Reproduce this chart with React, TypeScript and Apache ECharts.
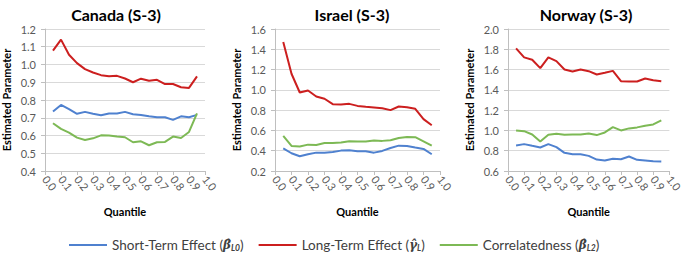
import React, { useEffect, useRef } from "react";
import * as echarts from "echarts";

const quantiles = [0.05, 0.1, 0.15, 0.2, 0.25, 0.3, 0.35, 0.4, 0.45, 0.5, 0.55, 0.6, 0.65, 0.7, 0.75, 0.8, 0.85, 0.9, 0.95];
const xTicks = [0, 1, 0.1];

const countries = ["Canada (S-3)", "Israel (S-3)", "Norway (S-3)"];
const yRanges = [
  [0.4, 1.2, 0.1],
  [0.2, 1.6, 0.2],
  [0.6, 2.0, 0.2],
];

const canadaShort = [0.735, 0.772, 0.748, 0.722, 0.733, 0.722, 0.714, 0.724, 0.724, 0.733, 0.72, 0.716, 0.708, 0.703, 0.703, 0.688, 0.708, 0.703, 0.716];
const canadaLong = [1.078, 1.14, 1.055, 1.008, 0.974, 0.955, 0.94, 0.934, 0.936, 0.921, 0.9, 0.92, 0.908, 0.914, 0.89, 0.89, 0.872, 0.868, 0.933];
const canadaCorr = [0.669, 0.637, 0.616, 0.588, 0.575, 0.584, 0.601, 0.6, 0.594, 0.59, 0.562, 0.567, 0.545, 0.562, 0.564, 0.594, 0.586, 0.62, 0.725];

const israelShort = [0.424, 0.375, 0.345, 0.365, 0.381, 0.381, 0.388, 0.401, 0.404, 0.394, 0.394, 0.381, 0.398, 0.427, 0.45, 0.447, 0.431, 0.418, 0.365];
const israelLong = [1.472, 1.159, 0.974, 0.994, 0.935, 0.912, 0.859, 0.856, 0.862, 0.842, 0.833, 0.826, 0.819, 0.8, 0.836, 0.829, 0.813, 0.711, 0.651];
const israelCorr = [0.546, 0.447, 0.441, 0.46, 0.457, 0.477, 0.477, 0.48, 0.493, 0.49, 0.49, 0.5, 0.497, 0.503, 0.526, 0.536, 0.533, 0.493, 0.45];

const norwayShort = [0.852, 0.865, 0.848, 0.832, 0.865, 0.835, 0.779, 0.766, 0.766, 0.749, 0.713, 0.703, 0.72, 0.716, 0.743, 0.71, 0.703, 0.696, 0.693];
const norwayLong = [1.809, 1.72, 1.697, 1.614, 1.72, 1.683, 1.601, 1.581, 1.601, 1.584, 1.551, 1.568, 1.587, 1.485, 1.482, 1.482, 1.512, 1.495, 1.485];
const norwayCorr = [1.0, 0.993, 0.96, 0.891, 0.957, 0.967, 0.957, 0.96, 0.96, 0.97, 0.954, 0.98, 1.033, 1.0, 1.02, 1.03, 1.046, 1.059, 1.099];

const seriesNames = ["Short-Term Effect", "Long-Term Effect", "Correlatedness"];
const seriesColors = ["#4F81CF", "#CC1F1F", "#7DB955"];
const panelData = [
  [canadaShort, canadaLong, canadaCorr],
  [israelShort, israelLong, israelCorr],
  [norwayShort, norwayLong, norwayCorr],
];

const FONT = "Lato, 'Open Sans', sans-serif";
const gridLefts = [40, 275, 508];
const titleCenters = [111, 347, 581];

export default function App() {
  const ref = useRef<HTMLDivElement>(null);
  useEffect(() => {
    document.body.style.margin = "0";
    if (!ref.current) return;
    const chart = echarts.init(ref.current, undefined, { renderer: "svg" });

    const grids = gridLefts.map((l) => ({ left: l, top: 29, width: 165, height: 142 }));
    const xAxes = gridLefts.map((_, i) => ({
      type: "value",
      gridIndex: i,
      min: xTicks[0],
      max: xTicks[1],
      interval: xTicks[2],
      name: "Quantile",
      nameLocation: "middle",
      nameGap: 35,
      nameTextStyle: { fontFamily: FONT, fontWeight: "bold", fontSize: 11, color: "#000" },
      axisLine: { show: true, lineStyle: { color: "#bfbfbf", width: 1 } },
      axisTick: { show: true, length: 4, lineStyle: { color: "#bfbfbf" } },
      splitLine: { show: false },
      axisLabel: {
        rotate: -52,
        margin: 6,
        fontSize: 11,
        color: "#595959",
        fontFamily: FONT,
        formatter: (v: number) => v.toFixed(1),
      },
    }));
    const yAxes = yRanges.map((r, i) => ({
      type: "value",
      gridIndex: i,
      min: r[0],
      max: r[1],
      interval: r[2],
      name: "Estimated Parameter",
      nameLocation: "middle",
      nameRotate: 90,
      nameGap: 33,
      nameTextStyle: { fontFamily: FONT, fontWeight: "bold", fontSize: 11, color: "#000" },
      axisLine: { show: true, lineStyle: { color: "#bfbfbf", width: 1 } },
      axisTick: { show: true, length: 4, lineStyle: { color: "#bfbfbf" } },
      splitLine: { show: true, lineStyle: { color: "#d9d9d9", width: 1 } },
      axisLabel: {
        margin: 9,
        fontSize: 11,
        color: "#595959",
        fontFamily: FONT,
        formatter: (v: number) => v.toFixed(1),
      },
    }));
    const titles = countries.map((c, i) => ({
      text: c,
      left: titleCenters[i],
      top: 1,
      textAlign: "center",
      textStyle: { fontFamily: FONT, fontWeight: "bold", fontSize: 16, color: "#000" },
    }));
    const series: any[] = [];
    panelData.forEach((panel, gi) => {
      panel.forEach((arr, si) => {
        series.push({
          type: "line",
          name: seriesNames[si],
          xAxisIndex: gi,
          yAxisIndex: gi,
          data: quantiles.map((q, k) => [q, arr[k]]),
          showSymbol: false,
          symbol: "none",
          lineStyle: { color: seriesColors[si], width: 2 },
          itemStyle: { color: seriesColors[si] },
        });
      });
    });

    const legendLabels: Record<string, string> = {
      "Short-Term Effect": "Short-Term Effect ({it|β̂}{sub|L0})",
      "Long-Term Effect": "Long-Term Effect ({it|γ̂}{sub|L})",
      Correlatedness: "Correlatedness ({it|β̂}{sub|L2})",
    };

    chart.setOption({
      animation: false,
      title: titles,
      grid: grids,
      xAxis: xAxes,
      yAxis: yAxes,
      legend: {
        data: seriesNames,
        left: 64,
        top: 233,
        icon: "rect",
        itemWidth: 38,
        itemHeight: 2,
        itemGap: 15,
        formatter: (name: string) => legendLabels[name],
        textStyle: {
          fontFamily: FONT,
          fontSize: 13.5,
          color: "#404040",
          rich: {
            it: { fontFamily: "'DejaVu Serif', serif", fontStyle: "italic", fontWeight: "bold", fontSize: 12, color: "#404040" },
            sub: { fontFamily: FONT, fontStyle: "italic", fontWeight: "bold", fontSize: 8.5, color: "#404040", verticalAlign: "bottom", padding: [3, 0, 0, 0] },
          },
        },
      },
      series,
    });
    return () => chart.dispose();
  }, []);
  return <div ref={ref} style={{ width: 685, height: 253 }} />;
}
